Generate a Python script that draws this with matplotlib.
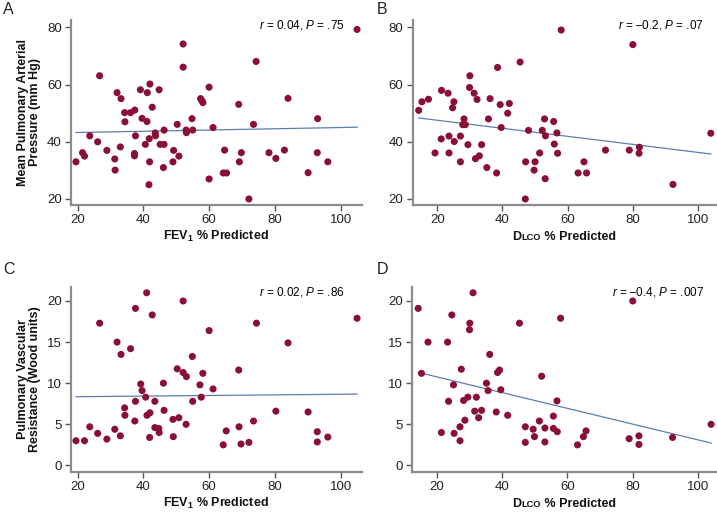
"""
Four-panel scatter: pulmonary haemodynamics vs FEV1 and DLCO % predicted.
"""

import numpy as np
import matplotlib.pyplot as plt

# ---------------------------------------------------------------------------
# Data
# ---------------------------------------------------------------------------

fev1_a = [19.5, 21.5, 22.1, 23.7, 26.1, 26.7, 28.9, 31.3, 31.4, 32.0, 33.0, 33.2,
          34.3, 34.4, 36.1, 37.4, 37.6, 37.3, 37.3, 39.1, 39.6, 41.1, 41.2, 42.0,
          42.7, 40.6, 41.8, 41.9, 41.7, 43.6, 43.7, 44.8, 45.1, 46.3, 46.3, 46.1,
          49.0, 49.2, 50.3, 50.8, 52.1, 52.1, 53.0, 53.1, 54.8, 55.0, 57.4, 57.8,
          58.1, 60.0, 60.0, 61.2, 64.7, 64.3, 65.3, 69.0, 69.2, 69.8, 72.1, 73.5,
          74.3, 78.2, 80.3, 82.9, 84.0, 90.1, 92.9, 93.0, 96.1, 105.0]
mpap_a = [33.0, 36.2, 35.0, 42.1, 40.0, 63.1, 37.0, 34.0, 30.1, 57.2, 38.2, 55.1,
          50.2, 47.0, 50.2, 51.1, 42.1, 35.9, 35.1, 58.2, 48.2, 47.1, 57.2, 60.2,
          52.1, 39.1, 41.1, 33.0, 25.0, 43.1, 42.1, 58.2, 39.1, 39.1, 44.1, 31.0,
          33.0, 37.0, 46.1, 35.0, 74.2, 66.1, 44.1, 43.2, 48.1, 44.1, 55.1, 54.4,
          53.7, 59.1, 27.0, 45.0, 37.1, 29.1, 29.1, 53.1, 33.0, 36.2, 20.0, 46.1,
          68.1, 36.2, 34.2, 37.1, 55.2, 29.2, 36.2, 48.1, 33.0, 79.3]

dlco_b = [14.3, 15.3, 17.3, 19.3, 21.3, 21.2, 23.3, 23.6, 23.6, 24.7, 25.1, 25.2,
          27.1, 27.1, 27.8, 28.2, 28.6, 29.4, 30.0, 29.9, 31.3, 32.2, 31.7, 32.9,
          33.6, 35.2, 35.7, 36.2, 38.2, 38.5, 39.3, 39.6, 41.6, 42.1, 45.4, 47.1,
          47.0, 48.0, 49.7, 50.0, 51.4, 52.2, 52.9, 53.2, 53.1, 55.7, 55.9, 56.7,
          56.9, 58.0, 80.0, 65.0, 63.2, 65.8, 71.6, 78.9, 82.0, 81.9, 92.3, 103.9]
mpap_b = [51.0, 54.0, 54.9, 36.1, 58.0, 41.0, 57.0, 42.0, 36.1, 51.9, 54.0, 40.1,
          42.0, 33.0, 46.0, 48.0, 46.0, 39.0, 63.1, 59.0, 57.0, 54.8, 34.1, 35.1,
          39.0, 31.0, 48.0, 55.1, 29.1, 66.0, 53.0, 45.0, 50.0, 53.4, 67.9, 33.0,
          20.0, 44.0, 30.1, 33.0, 36.1, 44.0, 48.0, 42.1, 27.1, 47.1, 39.2, 43.1,
          36.0, 79.1, 74.0, 33.0, 29.1, 29.1, 37.1, 37.1, 38.1, 36.0, 25.1, 43.0]

fev1_c = [19.5, 22.1, 23.7, 26.1, 26.7, 28.9, 31.3, 32.0, 33.0, 33.2, 34.3, 34.4,
          36.1, 37.4, 37.6, 37.6, 39.2, 39.6, 40.7, 41.0, 41.1, 42.0, 41.9, 42.7,
          43.5, 43.5, 44.7, 44.8, 46.1, 46.3, 49.0, 49.1, 50.3, 50.8, 52.1, 52.1,
          53.0, 53.1, 54.9, 55.0, 57.2, 57.6, 58.1, 60.0, 61.2, 64.3, 65.2, 69.0,
          69.1, 69.7, 72.1, 73.5, 74.4, 80.3, 84.0, 90.1, 92.9, 92.9, 96.1, 105.0]
pvr_c = [3.0, 3.0, 4.7, 3.9, 17.3, 3.2, 4.4, 15.0, 3.6, 13.5, 7.0, 6.1,
         14.2, 5.4, 19.1, 7.8, 9.9, 9.1, 8.3, 21.0, 6.1, 6.4, 3.4, 18.3,
         7.8, 4.6, 4.5, 4.0, 10.0, 6.7, 5.6, 3.5, 11.75, 5.8, 20.0, 11.3,
         5.0, 10.8, 13.25, 7.8, 9.8, 8.3, 11.2, 16.4, 9.3, 2.5, 4.2, 11.6,
         4.7, 2.6, 2.8, 5.4, 17.3, 6.6, 14.9, 6.5, 4.1, 2.85, 3.45, 17.9]

dlco_d = [14.3, 15.3, 17.3, 21.4, 23.3, 23.6, 24.6, 25.1, 25.3, 27.1, 27.1, 27.5,
          28.2, 28.6, 29.5, 30.0, 30.1, 31.1, 31.6, 32.1, 32.8, 33.7, 35.2, 35.7,
          36.2, 38.2, 38.6, 39.2, 39.6, 41.7, 45.3, 47.1, 47.1, 49.5, 49.9, 51.4,
          52.1, 53.1, 53.1, 55.7, 55.7, 57.9, 80.0, 56.8, 56.9, 65.7, 64.9, 63.1,
          78.9, 81.9, 81.9, 92.2, 104.0]
pvr_d = [19.1, 11.2, 15.0, 4.0, 15.0, 7.8, 18.3, 9.8, 3.9, 4.7, 3.0, 11.7,
         7.9, 5.5, 8.3, 16.5, 17.3, 21.0, 6.6, 8.3, 5.8, 6.7, 10.0, 9.1,
         13.5, 6.5, 11.3, 11.6, 9.2, 6.1, 17.3, 4.7, 2.8, 4.4, 3.5, 5.4,
         10.85, 4.55, 2.85, 6.0, 4.5, 17.9, 20.0, 7.85, 4.1, 4.2, 3.5, 2.5,
         3.25, 3.6, 2.55, 3.4, 5.0]

stats_text = [r"$\it{r}$ = 0.04, $\it{P}$ = .75",
              r"$\it{r}$ = –0.2, $\it{P}$ = .07",
              r"$\it{r}$ = 0.02, $\it{P}$ = .86",
              r"$\it{r}$ = –0.4, $\it{P}$ = .007"]

# ---------------------------------------------------------------------------
# Style
# ---------------------------------------------------------------------------

FONT  = "Liberation Sans"
DOT   = "#8a0f36"
FIT   = "#5b7fb0"
AXCOL = "#8c8c8c"
LABFS = 9

plt.rcParams["font.family"] = [FONT, "DejaVu Sans"]
plt.rcParams["mathtext.fontset"] = "custom"
plt.rcParams["mathtext.rm"] = FONT
plt.rcParams["mathtext.it"] = f"{FONT}:italic"
plt.rcParams["mathtext.bf"] = f"{FONT}:bold"

W, H = 717, 514
fig = plt.figure(figsize=(W / 100, H / 100), dpi=100)


def px_axes(left, top, right, bottom):
    return fig.add_axes([left / W, 1 - bottom / H, (right - left) / W, (bottom - top) / H])


def style(ax, xlim, ylim, yticks):
    ax.set_xlim(*xlim)
    ax.set_ylim(*ylim)
    ax.set_xticks([20, 40, 60, 80, 100])
    ax.set_yticks(yticks)
    for s in ("top", "right"):
        ax.spines[s].set_visible(False)
    for s in ("left", "bottom"):
        ax.spines[s].set_color(AXCOL)
        ax.spines[s].set_linewidth(1.6)
    ax.tick_params(direction="out", length=4, width=1, color="#555555",
                   labelsize=9.5, labelcolor="#222222", pad=2.5)


def panel(ax, x, y, txt, xt):
    ax.scatter(x, y, s=26, color=DOT, edgecolors="none", zorder=3)
    k, b = np.polyfit(x, y, 1)
    xs = np.array([min(x), max(x)])
    ax.plot(xs, k * xs + b, color=FIT, lw=0.9, zorder=2)
    ax.text(xt, 0.972, txt, transform=ax.transAxes, ha="right", va="center",
            fontsize=8.5)


axA = px_axes(70.7, 20, 362, 205)
axB = px_axes(412.5, 20, 716, 205)
axC = px_axes(70.7, 287, 362, 472)
axD = px_axes(412, 287, 716, 472)

style(axA, (17.9, 106.5), (17.9, 82.6), [20, 40, 60, 80])
style(axB, (12.4, 105.5), (17.9, 82.6), [20, 40, 60, 80])
style(axC, (17.9, 106.5), (-0.8, 21.7), [0, 5, 10, 15, 20])
style(axD, (12.4, 105.5), (-0.8, 21.7), [0, 5, 10, 15, 20])

panel(axA, fev1_a, mpap_a, stats_text[0], 0.94)
panel(axB, dlco_b, mpap_b, stats_text[1], 0.96)
panel(axC, fev1_c, pvr_c, stats_text[2], 0.94)
panel(axD, dlco_d, pvr_d, stats_text[3], 0.96)

# axis titles
lab = dict(fontsize=LABFS, fontweight="bold", color="#111111")
axA.set_ylabel("Mean Pulmonary Arterial\nPressure (mm Hg)", labelpad=4,
               linespacing=1.05, **lab)
axC.set_ylabel("Pulmonary Vascular\nResistance (Wood units)", labelpad=4,
               linespacing=1.05, **lab)
for ax in (axA, axC):
    ax.set_xlabel(r"FEV$_\mathbf{1}$ % Predicted", labelpad=2, **lab)

# DLCO label with small-cap "LCO", baseline matched to the FEV1 label
fig.canvas.draw()
renderer = fig.canvas.get_renderer()
fs_px = LABFS * 100 / 72
for ax, ref_ax in ((axB, axA), (axD, axC)):
    ref = ref_ax.xaxis.label.get_window_extent(renderer)
    base = ref.y1 - 0.86 * fs_px
    parts = [("D", LABFS), ("LCO", LABFS * 0.74), (" % Predicted", LABFS)]
    texts = [fig.text(0, base / H, p, fontsize=fs, fontweight="bold",
                      color="#111111", va="baseline", ha="left") for p, fs in parts]
    widths = [t.get_window_extent(renderer).width for t in texts]
    bb = ax.get_window_extent(renderer)
    x0 = bb.x0 + bb.width / 2 - sum(widths) / 2
    for t, w in zip(texts, widths):
        t.set_x(x0 / W)
        x0 += w

# panel letters
for letter, (x, y) in zip("ABCD", [(3, 9), (377, 9), (3, 269), (377, 269)]):
    fig.text(x / W, 1 - y / H, letter, fontsize=11.5, va="center", ha="left",
             color="#222222")

fig.savefig("out.png", dpi=100)
